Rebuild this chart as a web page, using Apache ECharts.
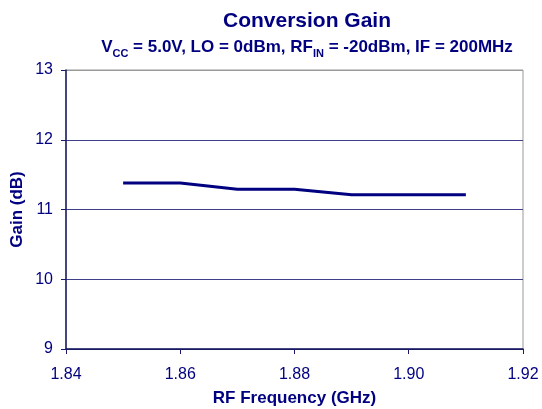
<!DOCTYPE html>
<html>
<head>
<meta charset="utf-8">
<script src="https://cdn.jsdelivr.net/npm/echarts@6/dist/echarts.min.js"></script>
<style>html,body{margin:0;padding:0;background:#fff}#c{width:542px;height:409px}</style>
</head>
<body>
<div id="c"></div>
<script>
var frequencies = [1.85, 1.86, 1.87, 1.88, 1.89, 1.90, 1.91];
var gainValues = [11.38, 11.38, 11.29, 11.29, 11.21, 11.21, 11.21];
var yTicks = [9, 10, 11, 12, 13];
var xTicks = [1.84, 1.86, 1.88, 1.90, 1.92];

var navy = '#000080';
var font = 'Liberation Sans, Arial, sans-serif';
var chart = echarts.init(document.getElementById('c'));
chart.setOption({
  animation: false,
  title: [{
    text: 'Conversion Gain',
    left: 302, top: 6, textAlign: 'center',
    textStyle: {color: navy, fontFamily: font, fontWeight: 'bold', fontSize: 21}
  }, {
    text: '{n|V}{s|CC}{n| = 5.0V, LO = 0dBm, RF}{s|IN}{n| = -20dBm, IF = 200MHz}',
    left: 302, top: 31, textAlign: 'center',
    textStyle: {
      rich: {
        n: {color: navy, fontFamily: font, fontWeight: 'bold', fontSize: 17, verticalAlign: 'bottom', lineHeight: 20},
        s: {color: navy, fontFamily: font, fontWeight: 'bold', fontSize: 11, verticalAlign: 'bottom', lineHeight: 14, padding: [0, 0, -3, 0]}
      }
    }
  }],
  grid: {left: 66, right: 19, top: 70, bottom: 60, containLabel: false, outerBoundsMode: 'none', show: true, borderColor: '#999', borderWidth: 1},
  xAxis: {
    type: 'value', min: xTicks[0], max: xTicks[xTicks.length - 1], interval: 0.02,
    name: 'RF Frequency (GHz)', nameLocation: 'middle', nameGap: 41, nameMoveOverlap: false,
    nameTextStyle: {color: navy, fontFamily: font, fontWeight: 'bold', fontSize: 17},
    axisLine: {lineStyle: {color: '#1a1a66', width: 1.5}},
    axisTick: {show: true, length: 5, lineStyle: {color: '#1a1a66'}},
    axisLabel: {color: navy, fontFamily: font, fontSize: 16, margin: 18, formatter: function (v) { return v.toFixed(2); }},
    splitLine: {show: false}
  },
  yAxis: {
    type: 'value', min: yTicks[0], max: yTicks[yTicks.length - 1], interval: 1,
    name: 'Gain (dB)', nameLocation: 'middle', nameGap: 40, nameMoveOverlap: false,
    nameTextStyle: {color: navy, fontFamily: font, fontWeight: 'bold', fontSize: 17},
    axisLine: {show: true, lineStyle: {color: '#1a1a66', width: 1.5}},
    axisTick: {show: true, length: 5, lineStyle: {color: '#1a1a66'}},
    axisLabel: {color: navy, fontFamily: font, fontSize: 16, margin: 13},
    splitLine: {show: true, lineStyle: {color: ['#1a1a66', '#40408a', '#40408a', '#40408a', '#999'], width: 1}}
  },
  series: [{
    type: 'line',
    data: frequencies.map(function (f, i) { return [f, gainValues[i]]; }),
    showSymbol: false, symbol: 'none',
    lineStyle: {color: navy, width: 3},
    itemStyle: {color: navy}
  }]
});
</script>
</body>
</html>
